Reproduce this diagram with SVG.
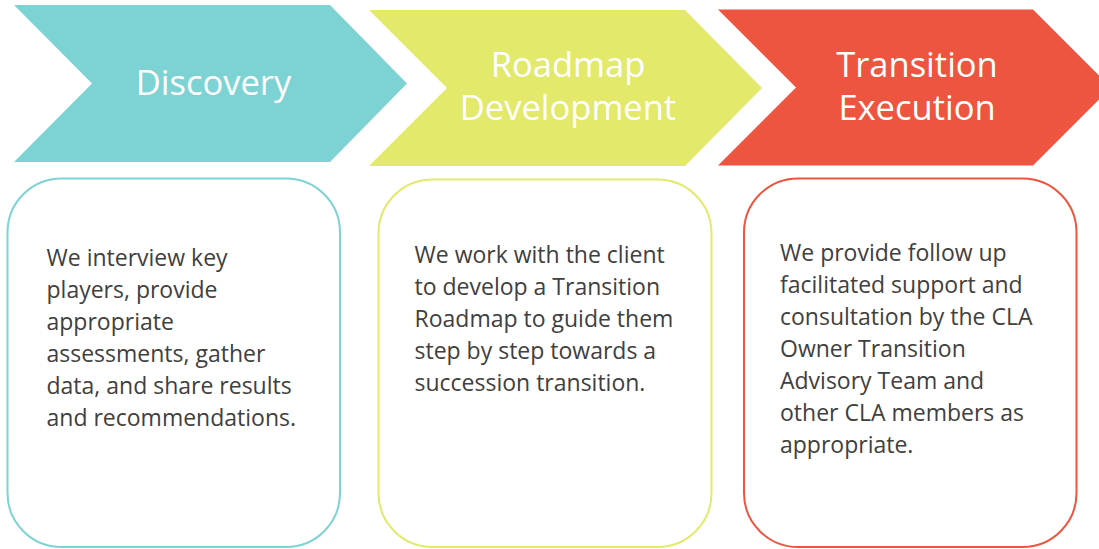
<svg xmlns="http://www.w3.org/2000/svg" width="1099" height="549" viewBox="0 0 1099 549">
<style>
.title{font-family:"Open Sans","Noto Sans","Liberation Sans",sans-serif;font-size:34.5px;fill:#ffffff;text-anchor:middle}
.body{font-family:"Open Sans","Noto Sans","Liberation Sans",sans-serif;font-size:23px;fill:#404040}
.box{fill:#ffffff;stroke-width:2}
</style>
<rect width="1099" height="549" fill="#ffffff"/>
<g id="discovery">
<polygon points="14,5 330,5 407,83.5 330,162 14,162 92,83.5" fill="#7dd3d4"/>
<text class="title" x="213.5" y="95">Discovery</text>
</g>
<g id="roadmap-development">
<polygon points="369,10 685,10 762,88 685,166 369,166 447,88" fill="#e2e96b"/>
<text class="title" x="568" y="77">Roadmap</text>
<text class="title" x="568" y="120">Development</text>
</g>
<g id="transition-execution">
<polygon points="718,9.5 1033,9.5 1111,87.5 1033,165.5 718,165.5 796,87.5" fill="#ee5541"/>
<text class="title" x="917" y="77">Transition</text>
<text class="title" x="917" y="120">Execution</text>
</g>
<g id="discovery-details">
<rect class="box" x="7.5" y="178.5" width="332.5" height="368.5" rx="54" ry="54" stroke="#7dd3d4"/>
<text class="body" x="46.5" y="266">We interview key</text>
<text class="body" x="46.5" y="298">players, provide</text>
<text class="body" x="46.5" y="330">appropriate</text>
<text class="body" x="46.5" y="362">assessments, gather</text>
<text class="body" x="46.5" y="394">data, and share results</text>
<text class="body" x="46.5" y="426">and recommendations.</text>
</g>
<g id="roadmap-details">
<rect class="box" x="378.5" y="179.5" width="333" height="367.5" rx="54" ry="54" stroke="#e2e96b"/>
<text class="body" x="414.5" y="263">We work with the client</text>
<text class="body" x="414.5" y="295">to develop a Transition</text>
<text class="body" x="414.5" y="327">Roadmap to guide them</text>
<text class="body" x="414.5" y="359">step by step towards a</text>
<text class="body" x="414.5" y="391">succession transition.</text>
</g>
<g id="execution-details">
<rect class="box" x="744" y="178.5" width="332.5" height="368.5" rx="54" ry="54" stroke="#ee5541"/>
<text class="body" x="780" y="261">We provide follow up</text>
<text class="body" x="780" y="293">facilitated support and</text>
<text class="body" x="780" y="325">consultation by the CLA</text>
<text class="body" x="780" y="357">Owner Transition</text>
<text class="body" x="780" y="389">Advisory Team and</text>
<text class="body" x="780" y="421">other CLA members as</text>
<text class="body" x="780" y="453">appropriate.</text>
</g>
<g id="connectors"></g>
</svg>
